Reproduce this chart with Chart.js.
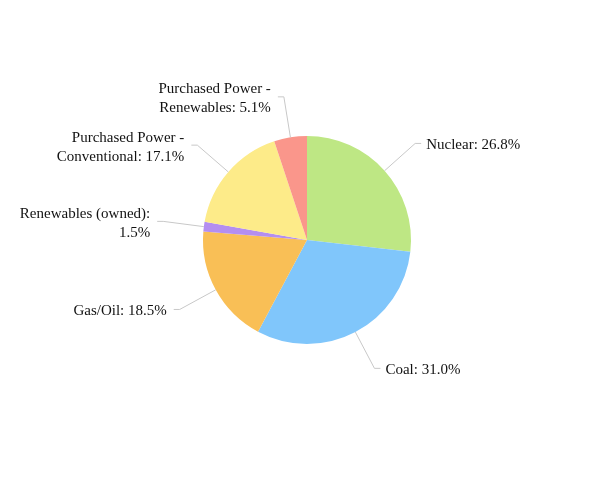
<!DOCTYPE html>
<html>
<head>
<meta charset="utf-8">
<script src="https://cdn.jsdelivr.net/npm/chart.js@4"></script>
<style>
  html, body { margin: 0; padding: 0; background: #fff; }
  #wrap { width: 614px; height: 480px; position: relative; }
</style>
</head>
<body>
<div id="wrap"><canvas id="chart-pie"></canvas></div>
<script>
// data
const categories = [
    'Nuclear',
    'Coal',
    'Gas/Oil',
    'Renewables (owned)',
    'Purchased Power - Conventional',
    'Purchased Power - Renewables'
];
const shares = [26.8, 31.0, 18.5, 1.5, 17.1, 5.1];
const sliceColors = ['#bee784', '#80c6fb', '#f9bf56', '#b48ef0', '#fdeb89', '#fa968b'];

const FONT = '15px "Liberation Serif", "Times New Roman", serif';
const LINE_H = 19;

// greedy word wrap, like the original labels
function wrapText(ctx, text, maxW) {
    const words = text.split(' ');
    const lines = [];
    let cur = '';
    words.forEach(w => {
        const test = cur ? cur + ' ' + w : w;
        if (cur && ctx.measureText(test).width > maxW) {
            lines.push(cur);
            cur = w;
        } else {
            cur = test;
        }
    });
    if (cur) lines.push(cur);
    return lines;
}

// leader lines + labels outside the slices
const outsideLabels = {
    id: 'outsideLabels',
    afterDraw(chart) {
        const ctx = chart.ctx;
        const meta = chart.getDatasetMeta(0);
        ctx.save();
        ctx.font = FONT;
        meta.data.forEach((arc, i) => {
            const p = arc.getProps(['x', 'y', 'startAngle', 'endAngle', 'outerRadius'], true);
            const mid = (p.startAngle + p.endAngle) / 2;
            const cos = Math.cos(mid), sin = Math.sin(mid);
            const x0 = p.x + cos * p.outerRadius;
            const y0 = p.y + sin * p.outerRadius;
            const x1 = p.x + cos * (p.outerRadius + 41);
            const y1 = p.y + sin * (p.outerRadius + 41);
            const right = cos >= 0;
            const x2 = x1 + (right ? 6 : -6);

            ctx.strokeStyle = '#c8c8c8';
            ctx.lineWidth = 1;
            ctx.beginPath();
            ctx.moveTo(x0, y0);
            ctx.lineTo(x1, y1);
            ctx.lineTo(x2, y1);
            ctx.stroke();

            const text = categories[i] + ': ' + shares[i].toFixed(1) + '%';
            const lines = wrapText(ctx, text, 140);
            ctx.fillStyle = '#111';
            ctx.textAlign = right ? 'left' : 'right';
            ctx.textBaseline = 'middle';
            const tx = x2 + (right ? 5 : -7);
            const top = y1 + 2 - (lines.length - 1) * LINE_H / 2;
            lines.forEach((ln, k) => ctx.fillText(ln, tx, top + k * LINE_H));
        });
        ctx.restore();
    }
};

window.onload = () => {
    new Chart(document.getElementById('chart-pie'), {
        type: 'pie',
        data: {
            labels: categories,
            datasets: [{
                data: shares,
                backgroundColor: sliceColors,
                borderWidth: 0
            }]
        },
        options: {
            animation: false,
            responsive: true,
            maintainAspectRatio: false,
            layout: { padding: { top: 136, bottom: 136, left: 203, right: 203 } },
            plugins: { legend: { display: false }, tooltip: { enabled: false } }
        },
        plugins: [outsideLabels]
    });
};
</script>
</body>
</html>
